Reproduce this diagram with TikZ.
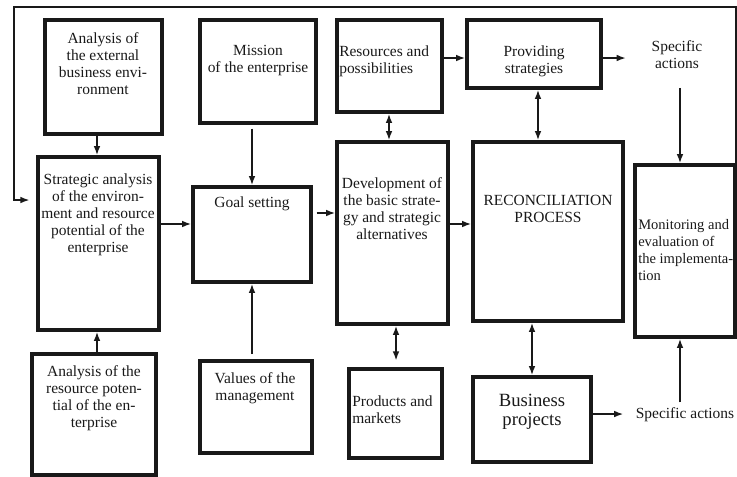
\documentclass[tikz,border=0pt]{standalone}
\usepackage{fontspec}
\setmainfont{Liberation Serif}
\usetikzlibrary{arrows.meta,fit}
\begin{document}
\begin{tikzpicture}[x=0.75pt,y=-0.75pt,
	box/.style={draw=black!90, line width=2.3pt, inner sep=0pt},
	txt/.style={inner sep=0pt, text=black!90, align=center, font=\fontsize{11.6}{12.75}\selectfont},
	arr/.style={draw=black!90, line width=1.6pt, -{Latex[length=7pt,width=5pt]}},
	dbl/.style={draw=black!90, line width=1.6pt, {Latex[length=7pt,width=5pt]}-{Latex[length=7pt,width=5pt]}}]
	\useasboundingbox (0,0) rectangle (737,476);

	\node[box, fit={(45,20) (162,134)}] (ext) {};
	\node[box, fit={(38,157) (159,330)}] (strat) {};
	\node[box, fit={(32,354) (156,475)}] (resa) {};
	\node[box, fit={(200,20) (316,123)}] (mission) {};
	\node[box, fit={(193,187) (311,282)}] (goal) {};
	\node[box, fit={(200,361) (312,453)}] (values) {};
	\node[box, fit={(337,20) (442,112)}] (resrc) {};
	\node[box, fit={(337,142) (448,324)}] (dev) {};
	\node[box, fit={(349,369) (442,458)}] (prod) {};
	\node[box, fit={(467,20) (601,88)}] (prov) {};
	\node[box, fit={(473,142) (623,321)}] (recon) {};
	\node[box, fit={(473,377) (591,462)}] (biz) {};
	\node[box, fit={(635,165) (735,337)}] (mon) {};

	\node[txt] (ext-t) at (103,64) {Analysis of\\the external\\business envi-\\ronment};
	\node[txt] (strat-t) at (98,215) {Strategic analysis\\of the environ-\\ment and resource\\potential of the\\enterprise};
	\node[txt] (resa-t) at (94,398) {Analysis of the\\resource poten-\\tial of the en-\\terprise};
	\node[txt] (mission-t) at (258,61) {Mission\\of the enterprise};
	\node[txt] (goal-t) at (252,204) {Goal setting};
	\node[txt] (values-t) at (255,388) {Values of the\\management};
	\node[txt, align=left, anchor=west] (resrc-t) at (339,61) {Resources and\\possibilities};
	\node[txt] (dev-t) at (392,209) {Development of\\the basic strate-\\gy and strategic\\alternatives};
	\node[txt, align=left, anchor=west] (prod-t) at (352,410) {Products and\\markets};
	\node[txt] (prov-t) at (534,61) {Providing\\strategies};
	\node[txt] (recon-t) at (548,209) {RECONCILIATION\\PROCESS};
	\node[txt, align=left, anchor=west, font=\fontsize{10.9}{12.75}\selectfont] (mon-t) at (638,250) {Monitoring and\\evaluation of\\the implementa-\\tion};
	\node[txt, font=\fontsize{14}{14.5}\selectfont] (biz-t) at (532,412) {Business\\projects};
	\node[txt] (act1) at (677,55) {Specific\\actions};
	\node[txt] (act2) at (685,415) {Specific actions};

	\draw[arr] (ext.south -| 97,0) -- (strat.north -| 97,0);
	\draw[arr] (resa.north -| 97,0) -- (strat.south -| 97,0);
	\draw[arr] (strat.east |- 0,224) -- (goal.west |- 0,224);
	\draw[arr, shorten <=3pt] (mission.south -| 252,0) -- (goal.north -| 252,0);
	\draw[arr, shorten <=4pt] (values.north -| 252,0) -- (goal.south -| 252,0);
	\draw[arr, shorten <=3pt] (goal.east |- 0,213) -- (dev.west |- 0,213);
	\draw[dbl] (resrc.south -| 389,0) -- (dev.north -| 389,0);
	\draw[dbl, shorten >=5pt] (dev.south -| 396,0) -- (prod.north -| 396,0);
	\draw[arr] (resrc.east |- 0,58) -- (prov.west |- 0,58);
	\draw[arr] (dev.east |- 0,224) -- (recon.west |- 0,224);
	\draw[dbl] (prov.south -| 538,0) -- (recon.north -| 538,0);
	\draw[dbl] (recon.south -| 532,0) -- (biz.north -| 532,0);
	\draw[arr, shorten >=19pt] (prov.east |- 0,58) -- (act1.west |- 0,58);
	\draw[arr, shorten <=14pt] (act1.south -| 680,0) -- (mon.north -| 680,0);
	\draw[arr, shorten >=9pt] (biz.east |- 0,414) -- (act2.west |- 0,414);
	\draw[arr, shorten <=4pt] (act2.north -| 680,0) -- (mon.south -| 680,0);
	\draw[arr, shorten >=5pt] (mon.north east) -- (mon.north east |- 0,7) -- (14,7) -- (14,200) -- (strat.west |- 0,200);
\end{tikzpicture}
\end{document}
